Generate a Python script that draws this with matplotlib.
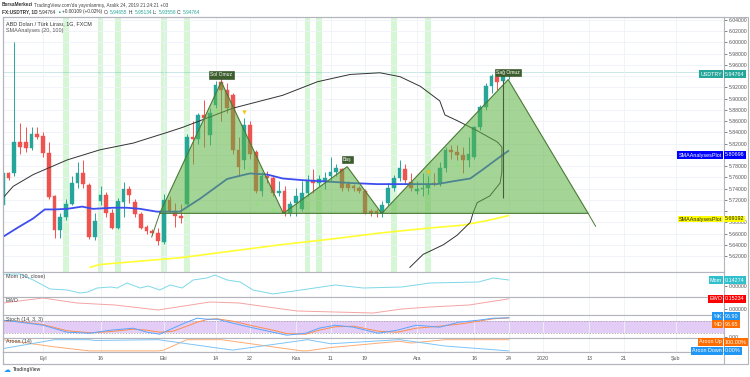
import matplotlib.pyplot as plt
from matplotlib.patches import Rectangle, Polygon
import numpy as np

plt.rcParams['font.family'] = ['Liberation Sans', 'DejaVu Sans']

# ---- data: daily bars, index 0 = 2 Eyl 2019 ----
bar_idx = list(range(-7, 82))
opens = [5.710, 5.767, 5.767, 5.823, 5.823, 5.812, 5.837, 5.833, 5.803, 5.727,
         5.666, 5.689, 5.713, 5.750, 5.767, 5.746, 5.654, 5.718, 5.729, 5.696,
         5.670, 5.717, 5.739, 5.717, 5.694, 5.671, 5.664, 5.661, 5.645, 5.720,
         5.701, 5.692, 5.713, 5.831, 5.828, 5.871, 5.835, 5.889, 5.930, 5.915,
         5.906, 5.809, 5.791, 5.854, 5.805, 5.736, 5.762, 5.758, 5.732, 5.736,
         5.697, 5.715, 5.704, 5.732, 5.755, 5.750, 5.751, 5.762, 5.769, 5.774,
         5.748, 5.744, 5.741, 5.736, 5.701, 5.701, 5.696, 5.715, 5.741, 5.758,
         5.774, 5.751, 5.736, 5.739, 5.741, 5.750, 5.748, 5.776, 5.809, 5.805,
         5.800, 5.791, 5.797, 5.849, 5.885, 5.923, 5.939, 5.932, 5.94655]
highs = [5.775, 5.770, 6.000, 5.857, 5.849, 5.849, 5.849, 5.840, 5.823, 5.729,
         5.697, 5.722, 5.762, 5.788, 5.791, 5.750, 5.696, 5.744, 5.734, 5.704,
         5.723, 5.751, 5.744, 5.722, 5.699, 5.675, 5.668, 5.670, 5.730, 5.727,
         5.715, 5.713, 5.837, 5.861, 5.875, 5.897, 5.883, 5.932, 5.936, 5.927,
         5.910, 5.831, 5.866, 5.861, 5.809, 5.769, 5.772, 5.765, 5.753, 5.744,
         5.718, 5.741, 5.753, 5.765, 5.774, 5.765, 5.770, 5.797, 5.783, 5.776,
         5.753, 5.748, 5.744, 5.739, 5.704, 5.704, 5.718, 5.750, 5.765, 5.791,
         5.784, 5.767, 5.753, 5.767, 5.762, 5.767, 5.788, 5.814, 5.817, 5.817,
         5.814, 5.831, 5.852, 5.889, 5.927, 5.944, 5.944, 5.946, 5.95134]
lows = [5.700, 5.755, 5.762, 5.802, 5.805, 5.809, 5.828, 5.797, 5.722, 5.652,
        5.652, 5.685, 5.710, 5.741, 5.741, 5.650, 5.649, 5.710, 5.689, 5.668,
        5.668, 5.689, 5.715, 5.689, 5.668, 5.659, 5.657, 5.640, 5.642, 5.696,
        5.671, 5.678, 5.710, 5.784, 5.819, 5.814, 5.817, 5.883, 5.861, 5.875,
        5.802, 5.762, 5.774, 5.793, 5.732, 5.727, 5.750, 5.727, 5.727, 5.692,
        5.692, 5.692, 5.701, 5.727, 5.732, 5.744, 5.739, 5.753, 5.762, 5.736,
        5.736, 5.736, 5.732, 5.694, 5.692, 5.690, 5.689, 5.710, 5.736, 5.753,
        5.750, 5.736, 5.730, 5.727, 5.730, 5.744, 5.744, 5.770, 5.793, 5.791,
        5.767, 5.779, 5.793, 5.845, 5.880, 5.910, 5.915, 5.928, 5.93558]
closes = [5.767, 5.758, 5.823, 5.814, 5.812, 5.837, 5.831, 5.803, 5.725, 5.666,
          5.689, 5.713, 5.750, 5.767, 5.748, 5.654, 5.683, 5.729, 5.696, 5.670,
          5.718, 5.739, 5.729, 5.694, 5.670, 5.664, 5.661, 5.647, 5.720, 5.701,
          5.692, 5.687, 5.831, 5.828, 5.871, 5.866, 5.875, 5.925, 5.915, 5.883,
          5.809, 5.779, 5.854, 5.802, 5.736, 5.762, 5.758, 5.732, 5.736, 5.697,
          5.713, 5.727, 5.732, 5.753, 5.750, 5.757, 5.758, 5.770, 5.776, 5.741,
          5.741, 5.741, 5.736, 5.697, 5.696, 5.696, 5.710, 5.741, 5.758, 5.776,
          5.755, 5.741, 5.739, 5.741, 5.748, 5.748, 5.776, 5.809, 5.805, 5.800,
          5.790, 5.802, 5.849, 5.885, 5.923, 5.941, 5.930, 5.941, 5.94764]

# SMA lines and the black envelope (index, price)
sma20_x = [-7, -4.5, -1.7, 0.3, 2.1, 4.2, 6.8, 8.7, 12.2, 14.6, 16.9, 19.8, 23.8, 27.3, 32.0,
           33.9, 36.0, 39.0, 41.7, 45.2, 48.7, 53.4, 58.1, 62.1, 68.5, 71.3, 74.3, 76.5, 79.0, 80.9]
sma20_y = [5.654, 5.670, 5.687, 5.703, 5.703, 5.704, 5.708, 5.704, 5.706, 5.706, 5.704, 5.699,
           5.699, 5.722, 5.757, 5.762, 5.767, 5.765, 5.758, 5.755, 5.753, 5.750, 5.748, 5.748,
           5.748, 5.753, 5.758, 5.774, 5.793, 5.80696]
sma100_x = [8.2, 9.9, 23.8, 41.2, 49.9, 58.6, 67.3, 73.0, 77.2, 80.9]
sma100_y = [5.600, 5.605, 5.617, 5.640, 5.650, 5.661, 5.670, 5.675, 5.683, 5.69192]
env_x = [-7.0, -5.2, -1.7, 4.2, 9.9, 15.7, 21.6, 24.3, 33.0, 41.7, 47.7, 53.4, 58.6, 62.1,
         65.6, 69.0, 69.9, 72.0, 75.5, 79.0, 79.8, 79.8, 79.5, 77.7, 75.5, 74.8, 74.3, 72.0,
         69.6, 66.1, 63.8]
env_y = [5.723, 5.744, 5.765, 5.791, 5.809, 5.821, 5.840, 5.849, 5.883, 5.906, 5.930, 5.943,
         5.946, 5.939, 5.922, 5.896, 5.871, 5.861, 5.843, 5.823, 5.814, 5.770, 5.750, 5.727,
         5.715, 5.697, 5.680, 5.657, 5.640, 5.623, 5.600]

# head & shoulders pattern
pat_x = [20.3, 31.0, 41.8, 52.9, 58.9, 80.9, 94.8]
pat_y = [5.696, 5.930, 5.696, 5.779, 5.696, 5.934, 5.696]
pat_names = ["Sol Omuz", "Baş", "Sağ Omuz"]
pat_name_at = [1, 3, 5]

highlight_bars = [4, 10, 13, 21, 25, 46, 48, 61, 67]
up_marks_x = [30.1, 35.8, 37.0, 40.0, 72.0]
up_marks_y = [5.880, 5.777, 5.715, 5.704, 5.784]
down_marks_x = [35.0, 67.0]
down_marks_y = [5.877, 5.769]

time_ticks = [0, 10, 21, 30, 36, 44, 50, 56, 65, 75, 81, 87, 95, 101, 110]
time_labels = ["Eyl", "16", "Eki", "14", "22", "Kas", "11", "19", "Ara", "16", "24",
               "2020", "13", "21", "Şub"]

# indicators
mom_x = [-7, -4, -1.7, 1.2, 4.2, 6.4, 7.8, 9.4, 11.7, 12.9, 14.6, 16.9, 18.3, 20.3, 22.1,
         24.2, 26.1, 28.5, 29.9, 32, 34.3, 36.5, 40, 44.9, 50.8, 55.7, 62.4, 67.3, 75.7, 78.3, 81]
mom_y = [0.28, 0.285, 0.143, -0.071, -0.095, -0.167, -0.143, -0.048, -0.024, -0.048, 0.071,
         -0.048, 0.0, -0.095, 0.024, -0.048, 0.143, 0.19, 0.26, 0.143, 0.095, -0.095, -0.19,
         -0.095, 0.024, -0.048, -0.024, 0.071, 0.095, 0.19, 0.14274]
ewo_x = [-7, 0, 5.9, 12.5, 20, 29, 34.1, 39.1, 44.2, 50.8, 57.4, 62.4, 67.3, 74.1, 81]
ewo_y = [0.09, 0.165, 0.09, 0.06, -0.015, 0.105, 0.09, 0.03, -0.03, -0.045, -0.06, 0.0,
         0.03, 0.06, 0.15234]
stoch_x = [-7, -4, 0, 4.2, 8.2, 11.7, 15.7, 18.1, 20.3, 22.6, 25, 26.8, 28.5, 30.3, 33, 36,
           40, 42.4, 45.7, 48, 50.8, 54, 58.3, 61.6, 64.9, 69, 72.3, 75.7, 78.3, 81]
stoch_k = [85, 75, 60, 25, 20, 35, 45, 25, 15, 45, 75, 95, 90, 90, 70, 50, 25, 10, 20, 45,
           60, 50, 20, 35, 60, 50, 75, 85, 95, 96.90]
stoch_d = [82, 78, 63, 32, 22, 28, 40, 35, 25, 30, 55, 75, 88, 92, 80, 60, 35, 18, 15, 35,
           52, 55, 30, 25, 45, 55, 65, 80, 92, 96.65]
aroon_x = [-7, 2, 8, 9, 20, 21, 25, 31, 33, 45, 46, 50, 62, 64, 70, 81]
aroon_up = [100, 36, 0, 0, 0, 7, 100, 100, 86, 0, 0, 30, 86, 70, 100, 100]
aroon_dn = [20, 100, 100, 93, 100, 93, 64, 21, 7, 93, 100, 64, 100, 86, 43, 0]

# ---- layout (pixel based) ----
W, H = 750, 377
fig = plt.figure(figsize=(7.5, 3.77), dpi=100)
renderer = fig.canvas.get_renderer()


def px_axes(x0, y0, x1, y1):
    return fig.add_axes([x0 / W, 1 - y1 / H, (x1 - x0) / W, (y1 - y0) / H])


def px_text(x, y, s, **kw):
    return fig.text(x / W, 1 - y / H, s, **kw)


XL = (-6.96, 118.43)
GRID = '#eef1f6'
UP, DN = '#26a69a', '#ef5350'
fs = 3.9
tfs = 3.7
hfs = 3.4

ax = px_axes(3, 17, 724, 272)
ax.set_xlim(*XL)
ax.set_ylim(5.5917, 6.0452)
price_ticks = np.round(np.arange(5.62, 6.041, 0.02), 2)
ax.set_yticks(price_ticks)
# 5.94, 5.80 and 5.70 are covered by the last-value tags
ax.set_yticklabels(['' if p in (5.94, 5.80, 5.70) else '%.5f' % p for p in price_ticks])
ax.yaxis.tick_right()
ax.tick_params(axis='y', labelsize=tfs, colors='#555555', length=2, width=0.5, pad=1.5)
ax.set_xticks(time_ticks)
ax.tick_params(axis='x', length=0, labelbottom=False)
ax.grid(True, color=GRID, lw=0.6)
for s in ax.spines.values():
    s.set_color('#b2b5be')
    s.set_linewidth(0.8)

for b in highlight_bars:
    ax.axvspan(b - 0.5, b + 0.5, color='#c9f5c9', alpha=0.75, lw=0, zorder=0.5)

for i, o, h, l, c in zip(bar_idx, opens, highs, lows, closes):
    col = UP if c >= o else DN
    ax.vlines(i, l, h, color=col, lw=0.7, zorder=2)
    ax.add_patch(Rectangle((i - 0.34, min(o, c)), 0.68, max(abs(c - o), 0.0012),
                           facecolor=col, edgecolor=col, lw=0.3, zorder=2))

ax.axhline(closes[-1], color=UP, lw=0.5, alpha=0.35, zorder=1)
ax.plot(sma100_x, sma100_y, color='#ffff33', lw=1.2, zorder=2.5)
ax.plot(sma20_x, sma20_y, color='#3d4df0', lw=1.3, zorder=2.5)
ax.plot(env_x, env_y, color='#333333', lw=0.7, zorder=2.5)

poly = Polygon(list(zip(pat_x, pat_y)), closed=True, facecolor='#5cb341', alpha=0.55,
               edgecolor='none', zorder=3)
ax.add_patch(poly)
ax.plot(pat_x + [pat_x[0]], pat_y + [pat_y[0]], color='#4a7a35', lw=0.8, zorder=3.2)
# outer legs extended below the neckline
ax.plot([pat_x[0], pat_x[0] - 1.4], [pat_y[0], 5.654], color='#4a7a35', lw=0.7, zorder=3.2)
ax.plot([pat_x[-1], pat_x[-1] + 1.3], [pat_y[-1], 5.673], color='#4a7a35', lw=0.7, zorder=3.2)
ax.vlines(80.0, 5.723, pat_y[5], color='#4a5a40', lw=0.8, zorder=3.3)
for name, k in zip(pat_names, pat_name_at):
    ax.text(pat_x[k], pat_y[k] + 0.008, name, fontsize=3.6, color='white', ha='center',
            va='bottom', zorder=5,
            bbox=dict(boxstyle='square,pad=0.25', fc='#3c5e2c', ec='#2f4a22', lw=0.4))

ax.scatter(up_marks_x, up_marks_y, marker='^', s=9, color='#8fe07a', zorder=4, lw=0)
ax.scatter(down_marks_x, down_marks_y, marker='v', s=9, color='#f4c20d', zorder=4, lw=0)
ax.scatter([32.0], [5.941], marker='v', s=9, color='#ef5350', zorder=4, lw=0)

ax.text(0.004, 0.985, 'ABD Doları / Türk Lirası, 1G, FXCM', transform=ax.transAxes,
        fontsize=fs, color='#333333', va='top')
ax.text(0.004, 0.955, 'SMAAnalyses (20, 100)', transform=ax.transAxes,
        fontsize=fs, color='#555555', va='top')

# ---- lower panes ----
panes = [(272, 297, 'Mom (10, close)'), (297, 315, 'EWO'),
         (315, 338, 'Stoch (14, 3, 3)'), (338, 352, 'Aroon (14)')]
pax = []
for y0, y1, name in panes:
    a = px_axes(3, y0, 724, y1)
    a.set_xlim(*XL)
    a.set_xticks(time_ticks)
    a.tick_params(axis='x', length=0, labelbottom=False)
    a.grid(True, axis='x', color=GRID, lw=0.6)
    a.yaxis.tick_right()
    a.tick_params(axis='y', labelsize=tfs, colors='#555555', length=2, width=0.5, pad=1.5)
    for s in a.spines.values():
        s.set_color('#b2b5be')
        s.set_linewidth(0.8)
    a.text(0.004, 0.93, name, transform=a.transAxes, fontsize=fs, color='#444444', va='top')
    pax.append(a)

m, e, st, ar = pax
m.plot(mom_x, mom_y, color='#7dd8e8', lw=0.7)
m.set_ylim(-0.262, 0.333)
m.set_yticks([0.0])
m.set_yticklabels(['0.00000'])

e.plot(ewo_x, ewo_y, color='#f5a3a3', lw=0.7)
e.set_ylim(-0.09, 0.18)
e.set_yticks([0.0])
e.set_yticklabels(['0.00000'])

st.axhspan(20, 80, color='#e3cdf6', lw=0)
st.axhline(80, color='#999999', lw=0.5, ls=(0, (2, 2)))
st.axhline(20, color='#999999', lw=0.5, ls=(0, (2, 2)))
st.plot(stoch_x, stoch_d, color='#ff8c4a', lw=0.7)
st.plot(stoch_x, stoch_k, color='#5aa6ff', lw=0.7)
st.set_ylim(-4, 111)
st.set_yticks([0])
st.set_yticklabels(['0.00'])

ar.plot(aroon_x, aroon_up, color='#ffab73', lw=0.7)
ar.plot(aroon_x, aroon_dn, color='#7cc4f7', lw=0.7)
ar.set_ylim(-10, 115)
ar.set_yticks([])

# time scale strip
tx = px_axes(3, 352, 724, 364)
tx.set_xlim(*XL)
tx.set_ylim(0, 1)
tx.set_yticks([])
tx.set_xticks([])
for s in tx.spines.values():
    s.set_color('#b2b5be')
    s.set_linewidth(0.8)
for t, lab in zip(time_ticks, time_labels):
    tx.text(t, 0.45, lab, fontsize=fs, color='#555555', ha='center', va='center')

# outer frame incl. price scale column
fig.add_artist(Rectangle((3 / W, 1 - 364 / H), 745 / W, 347 / H, transform=fig.transFigure,
                         fill=False, ec='#b2b5be', lw=0.8))


# ---- price scale labels ----
def tag(y, left, value, fc, tc='white', pad=0.25, size=fs):
    box = dict(boxstyle='square,pad=%s' % pad, fc=fc, ec=fc, lw=0)
    px_text(725, y, value, fontsize=size, color=tc, va='center', ha='left', bbox=box, zorder=6)
    px_text(722, y, left, fontsize=size, color=tc, va='center', ha='right', bbox=box, zorder=6)


tag(74, 'USDTRY', '5.94764', '#26a69a')
tag(155, 'SMAAnalysesPlot', '5.80696', '#0000ff')
tag(219, 'SMAAnalysesPlot', '5.69192', '#ffff00', tc='#222222', pad=0.15)
tag(280, 'Mom', '0.14274', '#30c0cc')
tag(299, 'EWO', '0.15234', '#ff0000')
tag(316, '%K', '96.90', '#2196f3')
tag(324, '%D', '96.65', '#ff6d00')
tag(342, 'Aroon Up', '100.00%', '#ff6d00')
tag(351, 'Aroon Down', '0.00%', '#2196f3')


# ---- header, laid out piece by piece ----
def text_run(y, pieces, x=2, gap=1.2):
    for s, col, wt, size in pieces:
        t = px_text(x, y, s, fontsize=size, color=col, weight=wt, va='center')
        x = t.get_window_extent(renderer).x1 + gap


text_run(5, [('BorsaMerkezi', '#333333', 'bold', hfs),
             ("TradingView.com'da yayınlanmış, Aralık 24, 2019 21:24:21 +03", '#444444',
              'normal', hfs)])
text_run(12, [('FX:USDTRY, 1D', '#333333', 'bold', hfs),
              ('5.94764', '#333333', 'normal', hfs),
              ('▲', UP, 'normal', 2.6),
              ('+0.00109 (+0.02%)', '#333333', 'normal', hfs),
              ('O:', '#333333', 'normal', hfs), ('5.94655', UP, 'normal', hfs),
              ('H:', '#333333', 'normal', hfs), ('5.95134', UP, 'normal', hfs),
              ('L:', '#333333', 'normal', hfs), ('5.93558', UP, 'normal', hfs),
              ('C:', '#333333', 'normal', hfs), ('5.94764', UP, 'normal', hfs)])

px_text(4, 370, '☁', fontsize=5, color='#2196f3', va='center', family='DejaVu Sans')
px_text(13, 370, 'TradingView', fontsize=hfs, weight='bold', color='#555555', va='center')

fig.savefig('out.png', dpi=100)
